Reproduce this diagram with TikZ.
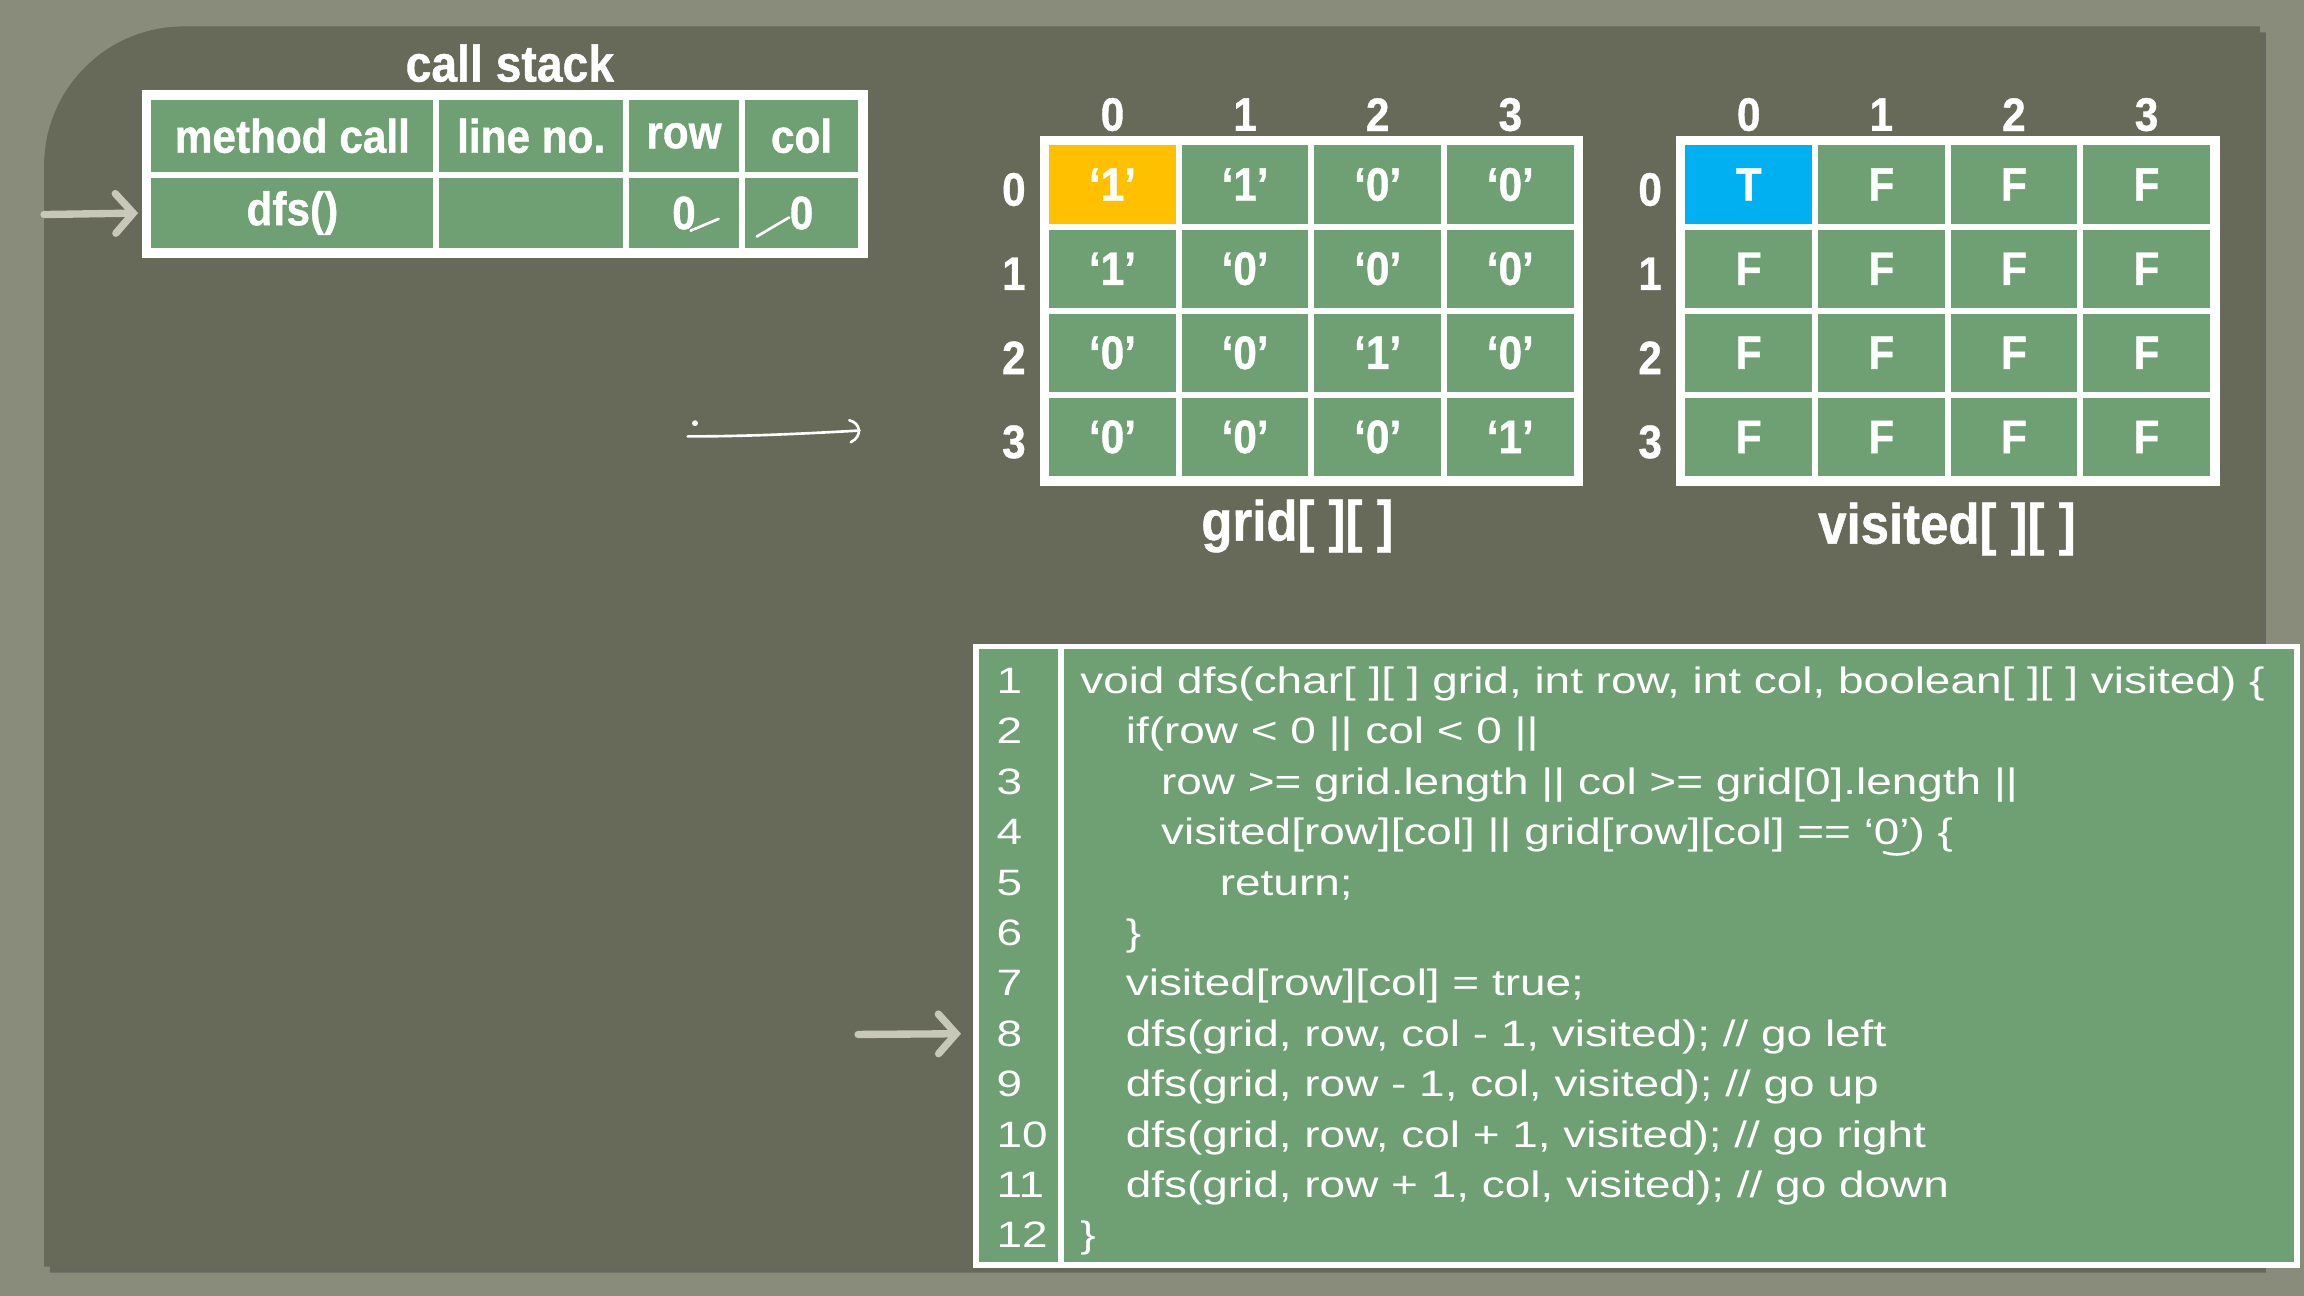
\documentclass[tikz,border=0pt]{standalone}
\usepackage{fontspec}
\setmainfont{Liberation Sans}
\newfontfamily\codefont[FakeStretch=1.25]{Liberation Sans}
\newfontfamily\headfont[FakeStretch=0.9,FakeBold=0.8]{Liberation Sans}
\usetikzlibrary{arrows.meta}
\definecolor{outerbg}{HTML}{898B7B}
\definecolor{panelbg}{HTML}{676959}
\definecolor{cellgreen}{HTML}{6FA073}
\definecolor{hlorange}{HTML}{FFC000}
\definecolor{hlblue}{HTML}{00B0F0}
\definecolor{arrowgray}{HTML}{C8C8B9}
\begin{document}
\begin{tikzpicture}[x=1pt,y=-1pt,
  cellbox/.style={draw=white, line width=4pt, fill=cellgreen, inner sep=0pt, text=white,
    font=\headfont\bfseries\fontsize{32}{34}\selectfont},
  gcell/.style={cellbox, minimum width=90.25pt, minimum height=57.25pt},
  idx/.style={text=white, inner sep=0pt, font=\headfont\bfseries\fontsize{32}{34}\selectfont},
  title/.style={text=white, inner sep=0pt, font=\headfont\bfseries\fontsize{35}{38}\selectfont},
  arrlabel/.style={text=white, inner sep=0pt, font=\headfont\bfseries\fontsize{38.5}{40}\selectfont},
  codeline/.style={text=white, inner sep=0pt, anchor=base west, font=\codefont\fontsize{25}{27}\selectfont},
  pointer/.style={draw=arrowgray, line width=5pt, line cap=round,
    -{Straight Barb[length=12pt,width=27pt,line cap=round]}},
  ink/.style={draw=white, line width=1.8pt, line cap=round}
]
% background and panel
\fill[outerbg] (0,0) rectangle (1568,882);
\fill[black, opacity=0.25] (34,866) -- (34,117) .. controls (34,64.5) and (76.5,22) .. (129,22) -- (1542,22) -- (1542,866) -- cycle;
\fill[panelbg] (30,862) -- (30,113) .. controls (30,60.5) and (72.5,18) .. (125,18) -- (1538,18) -- (1538,862) -- cycle;

% call stack
\node[title] (cstitle) at (347,43) {call stack};
\node[cellbox, minimum width=196pt, minimum height=53pt] (cs-h1) at (199,92.5) {method call};
\node[cellbox, minimum width=129pt, minimum height=53pt] (cs-h2) at (361.5,92.5) {line no.};
\node[cellbox, minimum width=79pt, minimum height=53pt] (cs-h3) at (465.5,92.5) {row};
\node[cellbox, minimum width=81pt, minimum height=53pt] (cs-h4) at (545.5,92.5) {col};
\node[cellbox, minimum width=196pt, minimum height=52pt] (cs-r1) at (199,145) {dfs()};
\node[cellbox, minimum width=129pt, minimum height=52pt] (cs-r2) at (361.5,145) {};
\node[cellbox, minimum width=79pt, minimum height=52pt] (cs-r3) at (465.5,145) {0};
\node[cellbox, minimum width=81pt, minimum height=52pt] (cs-r4) at (545.5,145) {0};
\draw[white, line width=5pt] (cs-h1.north west) rectangle (cs-r4.south east);
\draw[ink] (470,157) -- (489,149);
\draw[ink] (515,161) -- (537,148);

\coordinate (p1) at (30,146);
\draw[pointer] (p1) -- ([xshift=-5pt]cs-r1.west);

% hand-drawn arrow
\coordinate (h1) at (468,297);
\coordinate (h2) at (585,293);
\fill[white] (473,288) circle (2);
\draw[ink] (h1) .. controls (510,297) and (550,295) .. (h2);
\draw[ink] (578,286) .. controls (586,288) and (587,297) .. (579,301);

% grid
\foreach \vals [count=\r from 0] in {{‘1’,‘1’,‘0’,‘0’},{‘1’,‘0’,‘0’,‘0’},{‘0’,‘0’,‘1’,‘0’},{‘0’,‘0’,‘0’,‘1’}} {
  \foreach \v [count=\c from 0] in \vals {
    \ifnum\r\c=0 \def\cf{hlorange}\else\def\cf{cellgreen}\fi
    \node[gcell, fill=\cf] (g\r\c) at (757.1+90.25*\c, 125.6+57.25*\r) {\v};
  }
}
\draw[white, line width=5pt] (g00.north west) rectangle (g33.south east);
\foreach \i in {0,1,2,3} {
  \node[idx] (gc\i) at (757.1+90.25*\i, 78) {\i};
  \node[idx] (gr\i) at (690, 129+57.25*\i) {\i};
}
\node[arrlabel] (gridlabel) at (883,358) {grid[ ][ ]};

% visited
\foreach \r in {0,1,2,3} {
  \foreach \c in {0,1,2,3} {
    \ifnum\r\c=0 \def\cf{hlblue}\def\tv{T}\else\def\cf{cellgreen}\def\tv{F}\fi
    \node[gcell, fill=\cf] (v\r\c) at (1190.1+90.25*\c, 125.6+57.25*\r) {\tv};
  }
}
\draw[white, line width=5pt] (v00.north west) rectangle (v33.south east);
\foreach \i in {0,1,2,3} {
  \node[idx] (vc\i) at (1190.1+90.25*\i, 78) {\i};
  \node[idx] (vr\i) at (1123, 129+57.25*\i) {\i};
}
\node[arrlabel] (vislabel) at (1325,360) {visited[ ][ ]};

% code box
\node[draw=white, line width=4pt, fill=cellgreen, minimum width=58pt, minimum height=421pt, inner sep=0pt] (numcol) at (693,650.5) {};
\node[draw=white, line width=4pt, fill=cellgreen, minimum width=841pt, minimum height=421pt, inner sep=0pt] (codecol) at (1142.5,650.5) {};

\foreach \k in {1,...,12} {
  \node[codeline] (n\k) at (678, 472+34.3*\k-34.3) {\k};
}
\node[codeline] (c1) at (735, 472) {void dfs(char[ ][ ] grid, int row, int col, boolean[ ][ ] visited) \{};
\node[codeline] (c2) at (766, 506.3) {if(row < 0 || col < 0 ||};
\node[codeline] (c3) at (790, 540.6) {row >= grid.length || col >= grid[0].length ||};
\node[codeline] (c4) at (790, 574.9) {visited[row][col] || grid[row][col] == ‘0’) \{};
\node[codeline] (c5) at (830, 609.2) {return;};
\node[codeline] (c6) at (766, 643.5) {\}};
\node[codeline] (c7) at (766, 677.8) {visited[row][col] = true;};
\node[codeline] (c8) at (766, 712.1) {dfs(grid, row, col - 1, visited); // go left};
\node[codeline] (c9) at (766, 746.4) {dfs(grid, row - 1, col, visited); // go up};
\node[codeline] (c10) at (766, 780.7) {dfs(grid, row, col + 1, visited); // go right};
\node[codeline] (c11) at (766, 815.0) {dfs(grid, row + 1, col, visited); // go down};
\node[codeline] (c12) at (735, 849.3) {\}};
\draw[ink] (1282,580) .. controls (1288,582) and (1294,582) .. (1299,580);

\coordinate (p2) at (584,704);
\draw[pointer] (p2) -- ([xshift=-8pt]numcol.west |- n8);
\end{tikzpicture}
\end{document}
